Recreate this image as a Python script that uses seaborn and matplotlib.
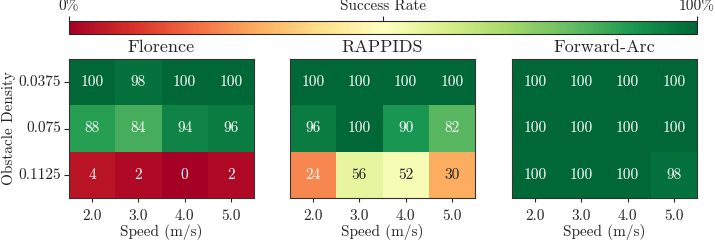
import matplotlib
matplotlib.use("Agg")
import matplotlib.pyplot as plt
import seaborn as sns
import numpy as np
from matplotlib.cm import ScalarMappable
from matplotlib.colors import Normalize

# data
speeds = ["2.0", "3.0", "4.0", "5.0"]
densities = ["0.0375", "0.075", "0.1125"]
florence = [[100, 98, 100, 100],
            [88, 84, 94, 96],
            [4, 2, 0, 2]]
rappids = [[100, 100, 100, 100],
           [96, 100, 90, 82],
           [24, 56, 52, 30]]
forward_arc = [[100, 100, 100, 100],
               [100, 100, 100, 100],
               [100, 100, 100, 98]]
planners = ["Florence", "RAPPIDS", "Forward-Arc"]

sns.set_style("ticks")
plt.rcParams["font.family"] = ["cmr10", "DejaVu Serif"]
plt.rcParams["axes.formatter.use_mathtext"] = True
plt.rcParams["font.size"] = 11

fig = plt.figure(figsize=(7.15, 2.4), dpi=100)
lefts = [69 / 715, 290 / 715, 512 / 715]
w = 185 / 715
b = 42 / 240
h = 139 / 240

for i, (name, vals) in enumerate(zip(planners, [florence, rappids, forward_arc])):
    ax = fig.add_axes([lefts[i], b, w, h])
    sns.heatmap(np.array(vals), ax=ax, cmap="RdYlGn", vmin=0, vmax=100,
                annot=True, fmt="d", cbar=False,
                xticklabels=speeds, yticklabels=densities,
                annot_kws={"fontsize": 11})
    for s in ax.spines.values():
        s.set_visible(True)
        s.set_linewidth(0.8)
        s.set_color("#333333")
    ax.set_title(name, fontsize=13, pad=5)
    ax.set_xlabel("Speed (m/s)", fontsize=11, labelpad=1)
    ax.tick_params(axis="x", length=3, width=0.8, labelsize=11, rotation=0, pad=5)
    if i == 0:
        ax.set_ylabel("Obstacle Density", fontsize=11, labelpad=2)
        ax.tick_params(axis="y", length=3.5, width=0.8, labelsize=11, rotation=0, pad=2)
    else:
        ax.set_yticks([])
        ax.set_ylabel("")

cax = fig.add_axes([69 / 715, 206 / 240, 628 / 715, 13 / 240])
cb = fig.colorbar(ScalarMappable(norm=Normalize(0, 100), cmap="RdYlGn"),
                  cax=cax, orientation="horizontal")
cb.outline.set_linewidth(0.8)
cb.set_ticks([0, 50, 100])
cb.set_ticklabels(["0%", "Success Rate", "100%"])
cax.xaxis.set_ticks_position("top")
cax.tick_params(axis="x", length=3.5, width=0.8, labelsize=11, pad=2)

fig.savefig("out.png", dpi=100)
